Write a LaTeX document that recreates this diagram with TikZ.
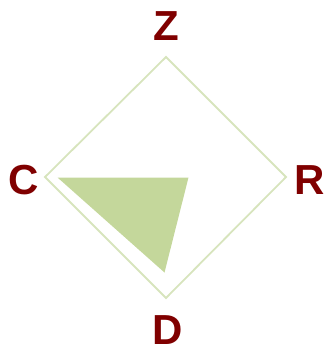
\documentclass[tikz,border=0pt]{standalone}
\usepackage{fontspec}
\setmainfont{Liberation Sans}
\definecolor{lbl}{HTML}{800000}
\definecolor{edge}{HTML}{D7E4BD}
\definecolor{tri}{HTML}{C4D79B}
\begin{document}
\begin{tikzpicture}[x=1pt,y=-1pt,
  lab/.style={text=lbl,font=\fontsize{42}{42}\selectfont\bfseries,inner sep=0pt,anchor=center}]
\useasboundingbox (0,0) rectangle (329,349);
\coordinate (t) at (166,57);
\coordinate (r) at (286,177);
\coordinate (b) at (166,298);
\coordinate (l) at (45,177);
\draw[edge,line width=1.8pt] (t) -- (r) -- (b) -- (l) -- cycle;
\coordinate (p1) at (57.5,177.5);
\coordinate (p2) at (188.5,177.5);
\coordinate (p3) at (164.5,272.5);
\fill[tri] (p1) -- (p2) -- (p3) -- cycle;
\node[lab] (Z) at (166,26.5) {Z};
\node[lab] (R) at (310,180.5) {R};
\node[lab] (D) at (168,330) {D};
\node[lab] (C) at (24,180.5) {C};
\end{tikzpicture}
\end{document}
